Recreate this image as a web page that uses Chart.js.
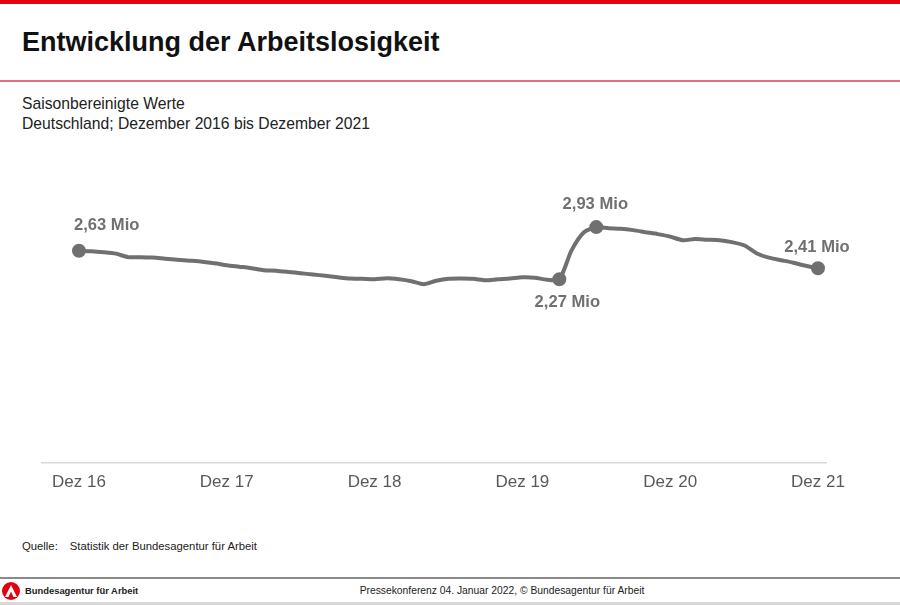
<!DOCTYPE html>
<html lang="de">
<head>
<meta charset="utf-8">
<script src="https://cdn.jsdelivr.net/npm/chart.js@4/dist/chart.umd.min.js"></script>
<style>
  body { margin: 0; width: 900px; height: 605px; background: #fff; font-family: "Liberation Sans", Arial, sans-serif; position: relative; overflow: hidden; }
  .topbar { position: absolute; left: 0; top: 0; width: 900px; height: 4px; background: #e3000f; }
  h1 { position: absolute; left: 22px; top: 27px; margin: 0; font-size: 27px; font-weight: bold; color: #111; }
  .redline { position: absolute; left: 0; top: 80px; width: 900px; height: 2px; background: #e2707f; }
  .sub { position: absolute; left: 22px; top: 94px; font-size: 15.7px; line-height: 20px; color: #222; }
  #wrap { position: absolute; left: 0; top: 140px; width: 900px; height: 380px; }
  .quelle { position: absolute; left: 22px; top: 540px; font-size: 11.3px; color: #222; }
  .quelle span { margin-left: 12px; }
  .footline { position: absolute; left: 0; top: 577px; width: 900px; height: 2px; background: #8a8a8a; }
  .footline2 { position: absolute; left: 0; top: 602px; width: 900px; height: 3px; background: #d8d8d8; }
  .logo { position: absolute; left: 2px; top: 582px; }
  .logotext { position: absolute; left: 25px; top: 585px; font-size: 9.4px; font-weight: bold; color: #222; }
  .foottext { position: absolute; left: 2px; width: 1000px; text-align: center; top: 585px; font-size: 10.3px; color: #222; }
</style>
</head>
<body>
<div class="topbar"></div>
<h1>Entwicklung der Arbeitslosigkeit</h1>
<div class="redline"></div>
<div class="sub">Saisonbereinigte Werte<br>Deutschland; Dezember 2016 bis Dezember 2021</div>
<div id="wrap"><canvas id="chart"></canvas></div>
<div class="quelle">Quelle:<span>Statistik der Bundesagentur für Arbeit</span></div>
<div class="footline"></div>
<svg class="logo" width="18" height="18" viewBox="0 0 18 18">
  <circle cx="9" cy="9" r="9" fill="#e3000f"/>
  <path d="M9 3 L15 15 L11.5 15 L9 9.5 L6.5 15 L3 15 Z" fill="#fff"/>
</svg>
<div class="logotext">Bundesagentur für Arbeit</div>
<div class="foottext">Pressekonferenz 04. Januar 2022, © Bundesagentur für Arbeit</div>
<div class="footline2"></div>

<script>
// Monatswerte Dez 2016 .. Dez 2021 (Mio, saisonbereinigt)
const months = [];
for (let i = 0; i <= 60; i++) months.push(i);

const unemployed = [
  2.63, 2.625, 2.613, 2.594, 2.55, 2.55, 2.545, 2.53, 2.517, 2.505, 2.492, 2.473,
  2.448, 2.429, 2.41, 2.384, 2.378, 2.363, 2.346, 2.33, 2.314, 2.295, 2.279, 2.276,
  2.27, 2.283, 2.27, 2.245, 2.207, 2.25, 2.276, 2.279, 2.276, 2.257, 2.27, 2.279,
  2.295, 2.29, 2.264, 2.27, 2.638, 2.866, 2.93, 2.917, 2.91, 2.892, 2.866, 2.841,
  2.81, 2.765, 2.778, 2.771, 2.765, 2.74, 2.70, 2.60, 2.543, 2.511, 2.479, 2.441,
  2.41
];

const tickPositions = [0, 12, 24, 36, 48, 60];
const tickLabels = ['Dez 16', 'Dez 17', 'Dez 18', 'Dez 19', 'Dez 20', 'Dez 21'];

// beschriftete Punkte
const labelIndex = [0, 39, 42, 60];
const labelText = ['2,63 Mio', '2,27 Mio', '2,93 Mio', '2,41 Mio'];

const grey = '#707070';

const pointLabels = {
  id: 'pointLabels',
  afterDatasetsDraw(chart) {
    const meta = chart.getDatasetMeta(0);
    const ctx = chart.ctx;
    const offsets = { 0: [-5, -25, 'left'], 39: [8, 23, 'center'], 42: [-1, -23, 'center'], 60: [-1, -21, 'center'] };
    ctx.save();
    ctx.font = 'bold 16.6px "Liberation Sans", Arial, sans-serif';
    ctx.fillStyle = grey;
    ctx.textBaseline = 'middle';
    labelIndex.forEach((idx, k) => {
      const p = meta.data[idx];
      const o = offsets[idx];
      ctx.textAlign = o[2];
      ctx.fillText(labelText[k], p.x + o[0], p.y + o[1]);
    });
    ctx.restore();
  }
};

const ctx = document.getElementById('chart').getContext('2d');
new Chart(ctx, {
  type: 'line',
  data: {
    datasets: [{
      data: months.map((m, i) => ({ x: m, y: unemployed[i] })),
      borderColor: grey,
      backgroundColor: grey,
      borderWidth: 4,
      tension: 0.25,
      pointRadius: c => labelIndex.includes(c.dataIndex) ? 5 : 0,
      pointHoverRadius: 0
    }]
  },
  options: {
    responsive: true,
    maintainAspectRatio: false,
    animation: false,
    layout: { padding: { left: 42, right: 74, top: 20, bottom: 17 } },
    plugins: { legend: { display: false }, tooltip: { enabled: false } },
    scales: {
      x: {
        type: 'linear',
        min: -3,
        max: 60.65,
        afterBuildTicks: axis => { axis.ticks = tickPositions.map(v => ({ value: v })); },
        grid: { display: false, drawTicks: false },
        border: { color: '#d9d9d9', width: 1.5 },
        ticks: {
          padding: 10,
          autoSkip: false,
          maxRotation: 0,
          color: '#595959',
          font: { family: '"Liberation Sans", Arial, sans-serif', size: 17 },
          callback: v => tickLabels[tickPositions.indexOf(v)]
        }
      },
      y: {
        display: false,
        min: -0.052,
        max: 3.78
      }
    }
  },
  plugins: [pointLabels]
});
</script>
</body>
</html>
